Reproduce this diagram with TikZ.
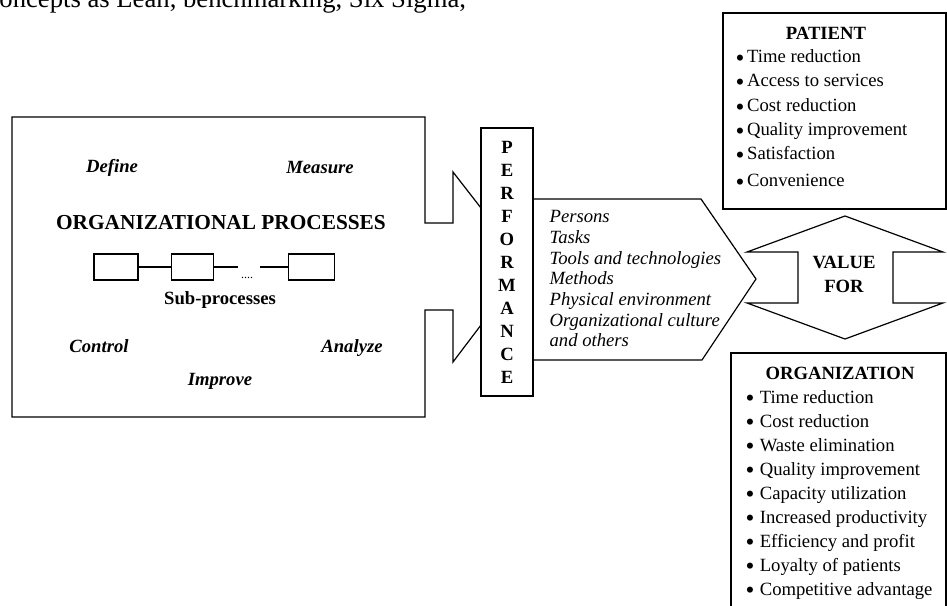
\documentclass[tikz,border=0pt]{standalone}
\usepackage{fontspec}
\setmainfont{Liberation Serif}
\newcommand{\bul}{\raisebox{-2.3pt}{\fontsize{19}{19}\selectfont\textbullet}}
\begin{document}
\begin{tikzpicture}[x=0.75pt, y=-0.75pt, line width=0.9pt,
    phase/.style={inner sep=0pt, anchor=base, font=\fontsize{14}{15}\selectfont\bfseries\itshape},
    heading/.style={inner sep=0pt, anchor=base, font=\fontsize{14}{15}\selectfont\bfseries},
    listitem/.style={inner sep=0pt, anchor=base west, font=\fontsize{14}{15}\selectfont},
    factor/.style={listitem, font=\fontsize{14}{15}\selectfont\itshape},
    subbox/.style={draw, minimum height=19.5pt, inner sep=0pt}]
    \clip (0,0) rectangle (947,606);
    \node (pagetxt) at (-13,8) [listitem, font=\fontsize{20}{24}\selectfont] {concepts as Lean, benchmarking, Six Sigma,};

    % processes box, notched towards performance
    \draw (481,208) -- (453,172) -- (453,223) -- (425,223) -- (425,117) -- (12,117)
        -- (12,417) -- (425,417) -- (425,310) -- (453,310) -- (453,362) -- (481,325);
    \node (define) at (112,173) [phase] {Define};
    \node (measure) at (320,174) [phase] {Measure};
    \node (orgproc) at (221,230) [heading, font=\fontsize{16}{18}\selectfont\bfseries] {ORGANIZATIONAL PROCESSES};
    \node (sp1) at (116,267) [subbox, minimum width=33pt] {};
    \node (sp2) at (192.5,267) [subbox, minimum width=32pt] {};
    \node (sp3) at (311.5,267) [subbox, minimum width=35pt] {};
    \coordinate (gapL) at (238,267);
    \coordinate (gapR) at (260,267);
    \draw (sp1) -- (sp2);
    \draw (sp2) -- (gapL);
    \draw (gapR) -- (sp3);
    \node (dots) at (247,279) [heading, font=\fontsize{9}{10}\selectfont] {....};
    \node (subproc) at (220,305) [heading] {Sub-processes};
    \node (control) at (99,353) [phase] {Control};
    \node (analyze) at (352,353) [phase] {Analyze};
    \node (improve) at (220,385) [phase] {Improve};

    % performance
    \node (perf) at (507,262) [draw, minimum width=39pt, minimum height=201pt, inner sep=0pt,
        align=center, font=\fontsize{14}{17.25}\selectfont\bfseries] {P\\E\\R\\F\\O\\R\\M\\A\\N\\C\\E};
    \draw (533,199) -- (701,199) -- (756,279) -- (702,360) -- (533,360);
    \foreach \t [count=\i from 0] in {Persons, Tasks, Tools and technologies, Methods,
        Physical environment, Organizational culture, and others}
        \node (factor\i) at (549,223+20.6*\i) [factor] {\t};

    % value for
    \draw (845,216) -- (943,252) -- (893,252) -- (893,303) -- (943,303) -- (845,339)
        -- (747,303) -- (798,303) -- (798,252) -- (747,252) -- cycle;
    \node (value) at (844,269) [heading] {VALUE};
    \node (for) at (844,292) [heading] {FOR};

    % patient
    \draw (723,13) rectangle (946,209);
    \node (patient) at (826,40) [heading] {PATIENT};
    \foreach \t/\y [count=\i] in {Time reduction/63, Access to services/87, Cost reduction/112,
        Quality improvement/136, Satisfaction/160, Convenience/187}
        \node (pat\i) at (735,\y) [listitem] {\bul\hspace{2pt}\t};

    % organization
    \draw (731,615) -- (731,353) -- (946,353) -- (946,615);
    \node (organization) at (840,379) [heading] {ORGANIZATION};
    \foreach \t [count=\i from 0] in {Time reduction, Cost reduction, Waste elimination,
        Quality improvement, Capacity utilization, Increased productivity,
        Efficiency and profit, Loyalty of patients, Competitive advantage}
        \node (org\i) at (745,403+24.1*\i) [listitem] {\bul\hspace{4pt}\t};
\end{tikzpicture}
\end{document}
